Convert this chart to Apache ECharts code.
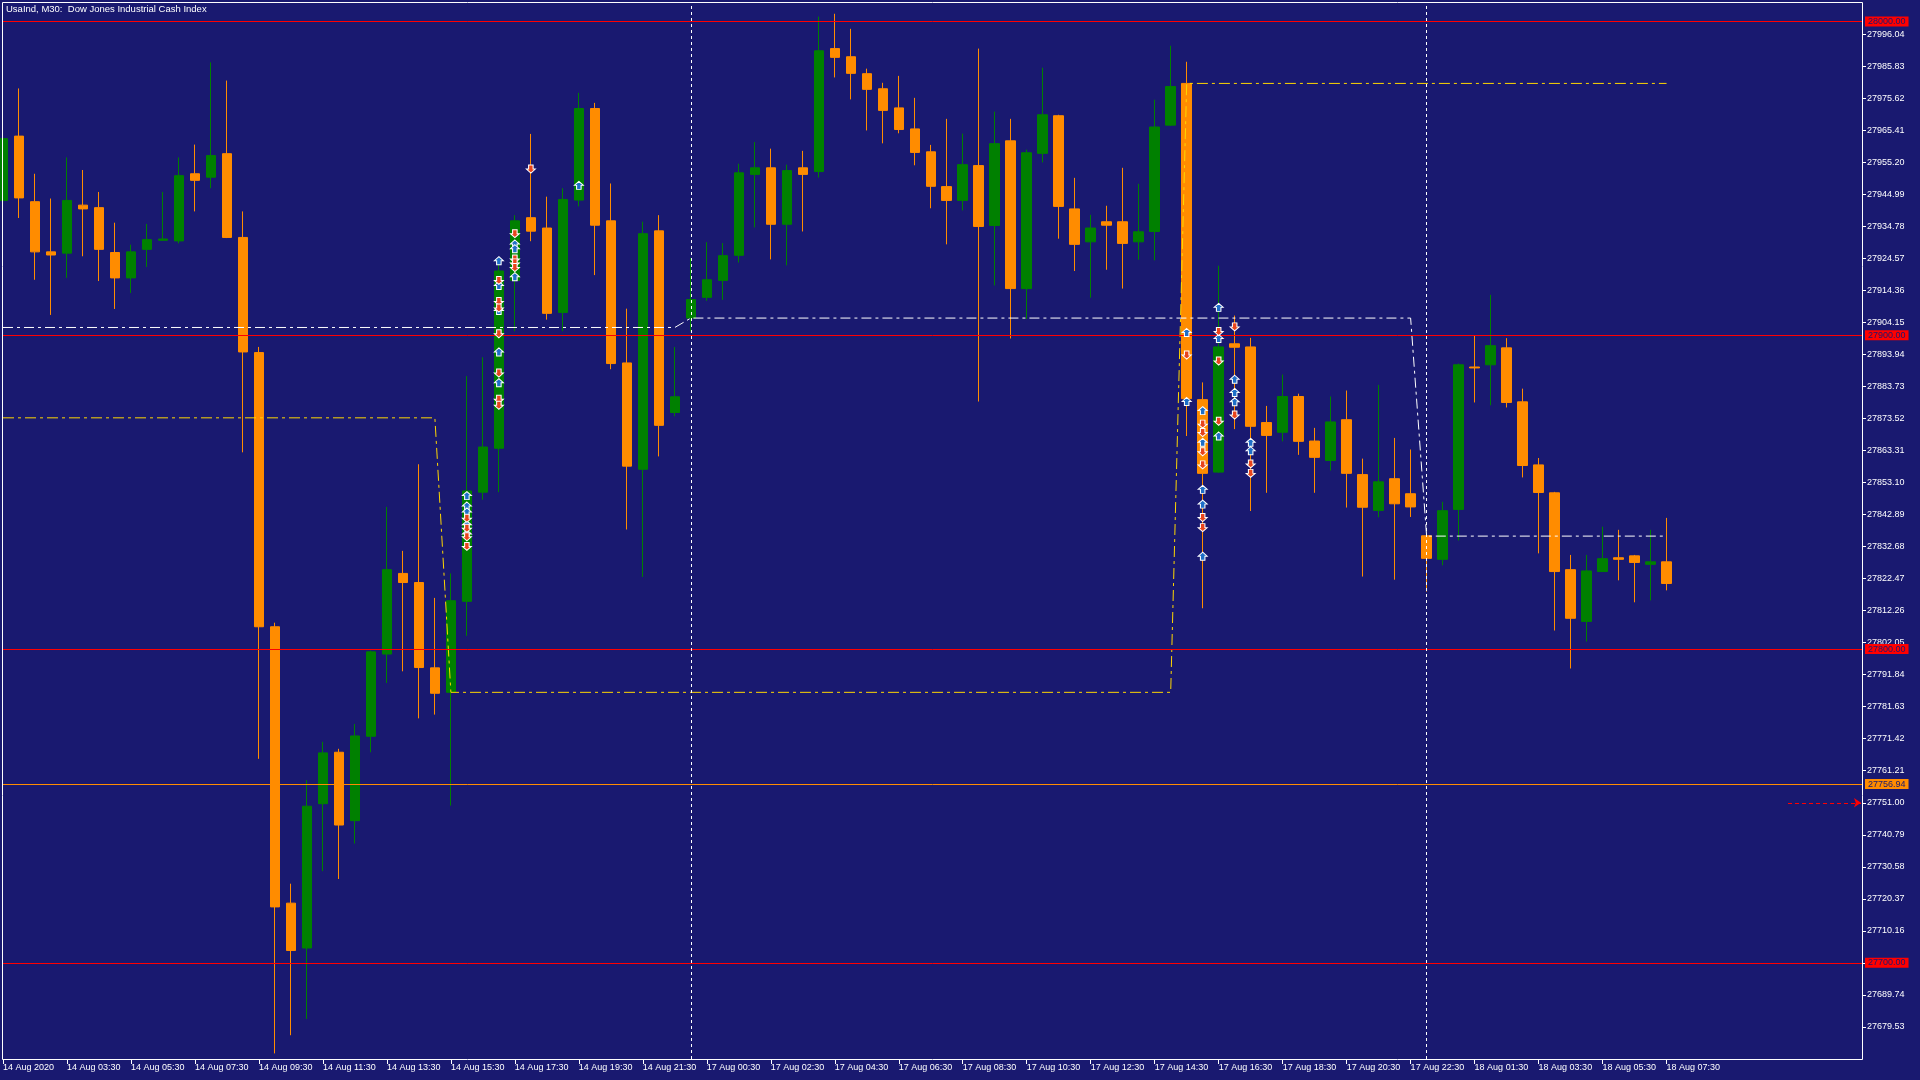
<!DOCTYPE html>
<html><head><meta charset="utf-8">
<script src="https://cdn.jsdelivr.net/npm/echarts/dist/echarts.min.js"></script>
<style>html,body{margin:0;padding:0;background:#191970;}#c{width:1920px;height:1080px;}</style>
</head><body><div id="c"></div>
<script>
// ---- data (bar index = position in 30-minute bars, 14 Aug 01:30 .. 18 Aug 07:30) ----
const chartTitle = 'UsaInd, M30:  Dow Jones Industrial Cash Index';
const xTickLabels = ['14 Aug 2020','14 Aug 03:30','14 Aug 05:30','14 Aug 07:30','14 Aug 09:30','14 Aug 11:30','14 Aug 13:30','14 Aug 15:30','14 Aug 17:30','14 Aug 19:30','14 Aug 21:30','17 Aug 00:30','17 Aug 02:30','17 Aug 04:30','17 Aug 06:30','17 Aug 08:30','17 Aug 10:30','17 Aug 12:30','17 Aug 14:30','17 Aug 16:30','17 Aug 18:30','17 Aug 20:30','17 Aug 22:30','18 Aug 01:30','18 Aug 03:30','18 Aug 05:30','18 Aug 07:30'];
const yTicks = [27679.53,27689.74,27699.95,27710.16,27720.37,27730.58,27740.79,27751.00,27761.21,27771.42,27781.63,27791.84,27802.05,27812.26,27822.47,27832.68,27842.89,27853.10,27863.31,27873.52,27883.73,27893.94,27904.15,27914.36,27924.57,27934.78,27944.99,27955.20,27965.41,27975.62,27985.83,27996.04];

const opens = [27943.0,27963.5,27942.6,27926.6,27926.2,27941.5,27940.7,27926.4,27918.3,27927.4,27930.3,27930.1,27951.5,27950.4,27957.9,27931.2,27894.5,27807.1,27719.0,27704.7,27750.7,27767.1,27745.3,27772.2,27798.4,27824.1,27821.2,27794.0,27786.2,27815.2,27850.0,27864.0,27917.5,27937.5,27934.2,27907.3,27943.1,27972.3,27936.5,27891.2,27857.3,27933.3,27875.4,27905.5,27912.1,27917.5,27925.5,27951.3,27953.4,27935.4,27953.4,27952.2,27991.4,27988.8,27983.4,27978.6,27972.5,27965.8,27958.5,27947.4,27943.0,27954.1,27935.0,27962.0,27914.9,27958.0,27970.0,27940.3,27929.8,27936.2,27936.2,27929.8,27933.1,27967.0,27980.3,27879.5,27856.4,27897.3,27896.3,27872.2,27869.1,27880.5,27866.3,27860.1,27873.1,27855.6,27844.2,27854.3,27849.5,27836.1,27828.6,27844.5,27889.9,27890.6,27896.0,27878.8,27858.7,27849.8,27825.3,27808.8,27824.7,27829.1,27829.7,27827.0,27827.8];
const closes = [27962.7,27943.8,27926.6,27925.6,27943.0,27940.3,27927.4,27918.3,27926.6,27930.5,27930.7,27950.9,27949.4,27957.3,27931.2,27894.7,27807.1,27717.8,27703.9,27749.9,27766.9,27743.9,27772.3,27799.1,27825.3,27821.2,27794.1,27785.9,27815.4,27850.4,27864.4,27920.5,27936.5,27933.2,27907.0,27943.3,27972.3,27935.1,27891.0,27858.3,27932.4,27871.3,27880.4,27911.4,27917.7,27925.4,27951.8,27953.4,27935.4,27952.5,27951.3,27990.7,27988.6,27983.5,27978.4,27971.7,27965.6,27958.3,27947.5,27943.0,27954.4,27934.7,27961.1,27914.9,27958.2,27970.3,27941.1,27929.0,27934.2,27935.1,27929.3,27933.0,27966.4,27979.3,27879.8,27856.0,27896.3,27896.2,27871.0,27868.1,27880.5,27866.2,27861.1,27872.4,27856.0,27845.2,27853.3,27846.3,27845.3,27828.9,27844.1,27890.6,27889.6,27896.7,27878.6,27858.5,27849.9,27824.7,27809.8,27824.9,27828.8,27828.6,27827.6,27827.8,27820.9];
const lows = [27942.5,27937.4,27917.7,27906.5,27918.3,27925.2,27917.3,27908.4,27913.5,27921.8,27930.2,27929.3,27939.5,27946.9,27931.0,27862.7,27765.0,27671.1,27676.9,27682.1,27729.2,27726.7,27738.0,27767.1,27789.2,27792.9,27777.9,27779.1,27750.1,27804.2,27847.6,27850.0,27901.3,27930.0,27905.0,27901.3,27941.1,27919.2,27889.2,27838.1,27823.0,27861.4,27874.2,27901.3,27911.0,27911.3,27923.2,27934.4,27924.2,27922.3,27933.1,27950.3,27982.2,27975.2,27965.3,27961.2,27964.4,27954.2,27940.5,27929.0,27939.8,27878.9,27915.9,27899.0,27905.2,27955.1,27930.8,27920.5,27912.0,27920.9,27914.9,27924.1,27923.9,27966.8,27867.9,27813.0,27856.2,27870.1,27844.0,27849.8,27866.2,27861.9,27849.8,27856.9,27845.1,27823.1,27842.0,27822.1,27842.1,27818.3,27826.7,27834.6,27878.6,27877.7,27877.0,27854.7,27830.5,27805.9,27793.8,27802.4,27824.6,27821.9,27814.9,27815.5,27818.7];
const highs = [27963.5,27978.7,27951.5,27943.6,27956.7,27952.7,27945.7,27935.9,27928.9,27935.5,27945.7,27956.7,27960.8,27987.0,27981.2,27939.5,27896.3,27808.4,27725.2,27758.2,27770.4,27768.2,27776.1,27799.5,27845.3,27831.3,27858.9,27816.3,27824.1,27887.0,27893.0,27923.5,27938.3,27964.2,27944.2,27946.9,27977.3,27974.1,27948.4,27908.5,27936.2,27938.3,27896.3,27924.6,27929.7,27929.4,27954.7,27961.6,27959.5,27954.4,27958.8,28001.6,28002.5,27997.7,27985.0,27980.5,27982.7,27975.7,27960.7,27969.0,27964.3,27991.4,27971.3,27969.0,27959.2,27985.3,27970.3,27950.2,27938.4,27941.3,27953.4,27948.3,27975.1,27992.3,27987.2,27885.0,27922.2,27906.3,27899.2,27877.5,27887.5,27881.4,27870.5,27880.5,27882.4,27860.7,27884.2,27867.3,27863.6,27836.5,27846.9,27891.0,27899.9,27912.9,27899.1,27883.0,27860.9,27850.1,27830.0,27830.0,27839.0,27838.0,27830.0,27838.0,27841.8];

// horizontal price levels
const redLevels = [28000.00, 27900.00, 27800.00, 27700.00];
const orangeLevel = 27756.94;
const askLevel = 27751.00;
// day separators (bar index of first bar of the day)
const daySeparators = [43, 89];
// indicator step lines: vertices [barIndex, price]
const pivotIdx = [0, 42, 43, 88, 89, 104];
const pivotVal = [27902.5, 27902.5, 27905.5, 27905.5, 27836.0, 27836.0];
const boxIdx = [0, 27, 28, 73, 74, 104];
const boxVal = [27873.7, 27873.7, 27786.2, 27786.2, 27980.3, 27980.3];
// signal arrows [barIndex, price]
const upArrowIdx = [29,29,29,29,29, 31,31,31,31,31, 32,32,32, 36, 74,74, 75,75,75,75,75, 76,76,76, 77,77,77, 78,78];
const upArrowVal = [27848.9,27845.6,27843.7,27839.6,27836.7, 27923.8,27915.9,27907.9,27894.7,27884.9, 27929.1,27927.6,27918.7, 27947.8, 27900.9,27878.9, 27876.0,27865.9,27850.9,27846.2,27829.6, 27908.9,27899.0,27867.9, 27886.0,27881.8,27878.8, 27865.9,27863.2];
const downArrowIdx = [29,29,29,29, 31,31,31,31,31,31,31, 32,32,32,32, 33, 74, 75,75,75,75,75,75, 76,76,76, 77,77, 78,78];
const downArrowVal = [27841.7,27838.5,27835.8,27832.7, 27917.5,27910.8,27908.7,27900.5,27888.0,27879.6,27877.7, 27932.4,27924.3,27923.1,27921.6, 27953.0, 27893.7, 27871.7,27869.0,27862.9,27858.7,27841.9,27838.7, 27901.2,27891.8,27872.6, 27902.7,27874.6, 27859.0,27856.0];

// ---- build ----
const FONT = 'Liberation Sans';
const BG = '#191970';
const candles = opens.map((o, i) => [i, o, closes[i], lows[i], highs[i]]);
const pivotLine = pivotIdx.map((x, i) => [x, pivotVal[i]]);
const boxLine = boxIdx.map((x, i) => [x, boxVal[i]]);
const upArrows = upArrowIdx.map((x, i) => [x, upArrowVal[i]]);
const downArrows = downArrowIdx.map((x, i) => [x, downArrowVal[i]]);
const xTickPos = xTickLabels.map((_, k) => k * 4);

function levelLine(v, col) {
  return {
    yAxis: v,
    lineStyle: { color: col, width: 1, type: 'solid' },
    label: {
      show: true, position: 'end', distance: 3,
      formatter: () => v.toFixed(2),
      backgroundColor: col, color: BG, fontFamily: FONT, fontSize: 9,
      lineHeight: 9, padding: [1, 3, 0, 3]
    }
  };
}

const chart = echarts.init(document.getElementById('c'), null, { renderer: 'canvas' });
chart.setOption({
  animation: false,
  backgroundColor: BG,
  title: {
    text: chartTitle, left: 6, top: 4, padding: 0,
    textStyle: { color: '#ffffff', fontFamily: FONT, fontSize: 9.5, fontWeight: 'normal' }
  },
  grid: { left: 2.5, right: 58, top: 2, bottom: 21, containLabel: false },
  xAxis: {
    type: 'value', min: 0, max: (1862 - 2.5) / 16, interval: 4,
    axisLine: { show: false, onZero: false },
    axisTick: { show: true, inside: false, length: 5, lineStyle: { color: '#ffffff' }, customValues: xTickPos },
    axisLabel: {
      color: '#ffffff', fontFamily: FONT, fontSize: 9, align: 'left', margin: 4,
      customValues: xTickPos,
      formatter: v => { const k = Math.round(v / 4); return (Math.abs(v - k * 4) < 1e-6 && k < xTickLabels.length) ? xTickLabels[k] : ''; }
    },
    splitLine: { show: false }
  },
  yAxis: {
    type: 'value', position: 'right', min: 27669.32, max: 28006.25, interval: 10.21, scale: true,
    axisLine: { show: false, onZero: false },
    axisTick: { show: true, inside: false, length: 4, lineStyle: { color: '#ffffff' }, customValues: yTicks },
    axisLabel: {
      color: '#ffffff', fontFamily: FONT, fontSize: 9, margin: 5,
      customValues: yTicks,
      formatter: v => v.toFixed(2)
    },
    splitLine: { show: false }
  },
  graphic: [{
    type: 'rect', z: 100, silent: true,
    shape: { x: 2.5, y: 2.5, width: 1860, height: 1057 },
    style: { fill: null, stroke: '#ffffff', lineWidth: 1 }
  }],
  series: [
    {
      type: 'candlestick', z: 2, barWidth: 10, data: candles,
      encode: { x: 0, y: [1, 2, 3, 4] },
      itemStyle: { color: '#008000', color0: '#FF8C00', borderColor: '#008000', borderColor0: '#FF8C00', borderWidth: 1 }
    },
    {
      type: 'line', z: 3, data: pivotLine, showSymbol: false, symbol: 'none',
      lineStyle: { color: '#ffffff', width: 1, type: [10, 4, 3, 4] }
    },
    {
      type: 'line', z: 3, data: boxLine, showSymbol: false, symbol: 'none',
      lineStyle: { color: '#FFD700', width: 1, type: [11, 4, 3, 4] }
    },
    {
      type: 'line', z: 4, data: [], clip: false,
      markLine: {
        silent: true, symbol: 'none', animation: false,
        data: [
          ...redLevels.map(v => levelLine(v, '#FF0000')),
          levelLine(orangeLevel, '#FF8C00'),
          ...daySeparators.map(x => ({ xAxis: x, lineStyle: { color: '#ffffff', width: 1, type: [3, 3] }, label: { show: false } })),
          [
            { coord: [(1788 - 2.5) / 16, askLevel], symbol: 'none' },
            { coord: [(1861 - 2.5) / 16, askLevel], symbol: 'arrow', symbolSize: 7,
              lineStyle: { color: '#FF0000', width: 1, type: [4, 3] }, label: { show: false } }
          ]
        ]
      }
    },
    {
      type: 'scatter', z: 5, data: upArrows,
      symbol: 'path://M4,0 L8,4 L6,4 L6,8 L2,8 L2,4 L0,4 Z', symbolSize: [9, 8],
      itemStyle: { color: '#1E6EC8', borderColor: '#ffffff', borderWidth: 1, opacity: 1 }
    },
    {
      type: 'scatter', z: 5, data: downArrows,
      symbol: 'path://M2,0 L6,0 L6,4 L8,4 L4,8 L0,4 L2,4 Z', symbolSize: [9, 8],
      itemStyle: { color: '#E8441C', borderColor: '#ffffff', borderWidth: 1, opacity: 1 }
    }
  ]
});
</script></body></html>
